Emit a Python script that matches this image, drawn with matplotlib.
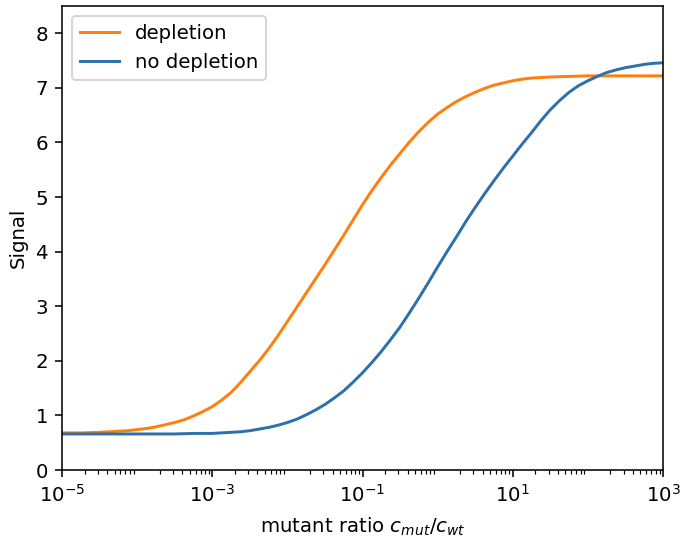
import numpy as np
import matplotlib
matplotlib.use("Agg")
import matplotlib.pyplot as plt

# log10 of the mutant ratio, sampled every eighth of a decade
log_ratio = np.linspace(-5.0, 3.0, 65)

signal_depletion = [
    0.68, 0.68, 0.68, 0.685, 0.69, 0.70, 0.71, 0.72, 0.74, 0.76, 0.79,
    0.83, 0.87, 0.92, 0.99, 1.07, 1.16, 1.28, 1.42, 1.60, 1.80, 2.00,
    2.22, 2.46, 2.72, 2.98, 3.24, 3.50, 3.76, 4.03, 4.30, 4.58, 4.86,
    5.12, 5.36, 5.59, 5.80, 6.01, 6.20, 6.37, 6.52, 6.64, 6.75, 6.84,
    6.92, 6.99, 7.05, 7.09, 7.13, 7.16, 7.18, 7.19, 7.20, 7.205, 7.21,
    7.215, 7.22, 7.22, 7.22, 7.22, 7.22, 7.22, 7.22, 7.22, 7.22,
]
signal_no_depletion = [
    0.66, 0.66, 0.66, 0.66, 0.66, 0.66, 0.66, 0.66, 0.66, 0.66, 0.66,
    0.66, 0.66, 0.665, 0.67, 0.67, 0.67, 0.68, 0.69, 0.70, 0.72, 0.75,
    0.78, 0.82, 0.87, 0.93, 1.01, 1.10, 1.20, 1.32, 1.45, 1.61, 1.78,
    1.97, 2.17, 2.39, 2.62, 2.88, 3.15, 3.43, 3.72, 4.00, 4.27, 4.55,
    4.81, 5.06, 5.30, 5.53, 5.75, 5.97, 6.18, 6.40, 6.60, 6.77, 6.92,
    7.04, 7.13, 7.21, 7.28, 7.33, 7.37, 7.40, 7.43, 7.45, 7.46,
]

ratio = 10.0 ** log_ratio

dpi = 142
fig = plt.figure(figsize=(682 / dpi, 538 / dpi), dpi=dpi)
ax = fig.add_axes([62 / 682, 68 / 538, 601 / 682, 464 / 538])

ax.plot(ratio, signal_depletion, color="#ff7f0e", label="depletion")
ax.plot(ratio, signal_no_depletion, color="#2c70ac", label="no depletion")

ax.set_xscale("log")
ax.set_xlim(1e-5, 1e3)
ax.set_ylim(0, 8.5)
ax.set_xticks([1e-5, 1e-3, 1e-1, 1e1, 1e3])
ax.set_xlabel("mutant ratio $c_{mut}/c_{wt}$", labelpad=5)
ax.set_ylabel("Signal")
ax.legend(loc="upper left")

fig.savefig("out.png", dpi=dpi)
